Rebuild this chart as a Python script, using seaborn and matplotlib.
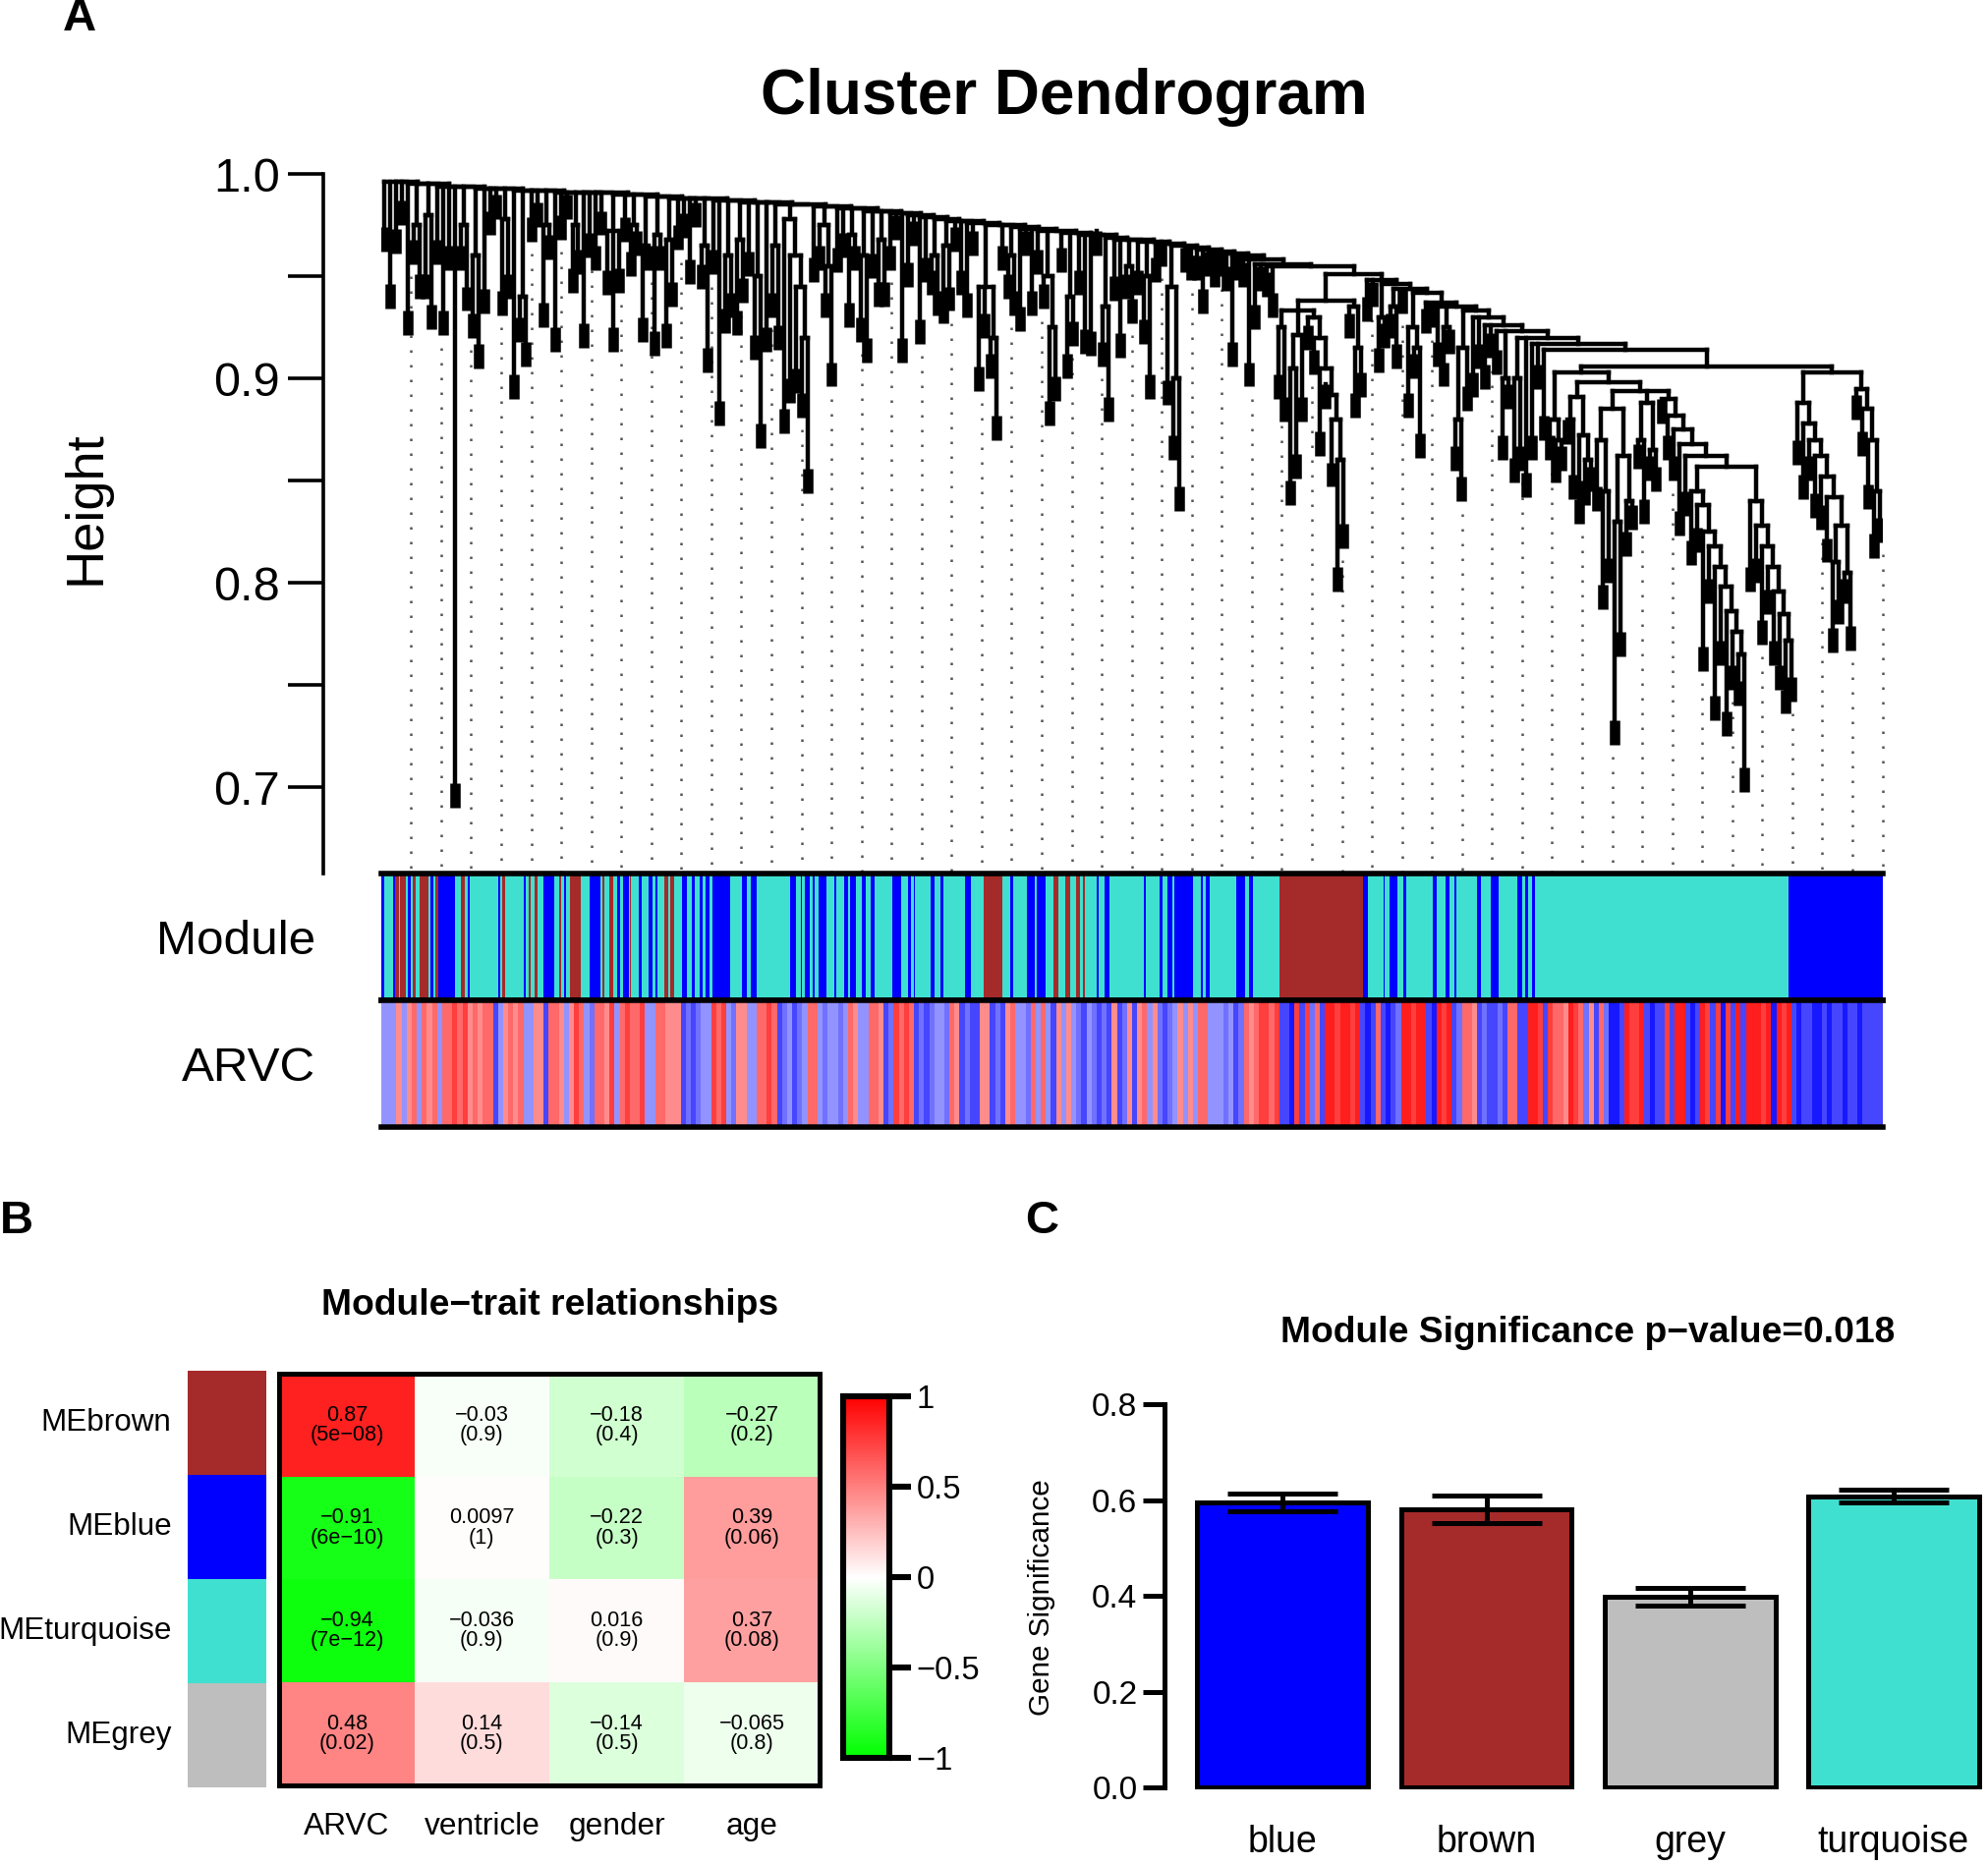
import numpy as np
import pandas as pd
import matplotlib
matplotlib.use("Agg")
import matplotlib.pyplot as plt
from matplotlib.collections import LineCollection
from matplotlib.colors import LinearSegmentedColormap, ListedColormap
import seaborn as sns

# ---------------- data ----------------
# Panel A: dendrogram, written as a chain of (merge height, [branches]) along the backbone.
# A branch is either the bottom height of a leaf group or a nested [merge height, child, child, ...]
chain_left = [
    (0.996, [0.962, 0.934]), (0.996, [0.961, 0.975]), (0.995, [0.921]),
    (0.995, [[0.975, 0.956, 0.939]]), (0.995, [[0.980, 0.939, 0.924]]),
    (0.994, [0.956, 0.921]), (0.994, [0.953, 0.690]), (0.994, [[0.975, 0.953, 0.933]]),
    (0.993, [[0.960, 0.920, 0.905]]), (0.993, [0.932]), (0.993, [0.970, 0.978]),
    (0.993, [[0.978, 0.931, 0.939]]), (0.992, [0.890]), (0.992, [[0.940, 0.918, 0.906]]),
    (0.992, [0.967, 0.974]), (0.992, [[0.975, 0.925, 0.958]]), (0.991, [0.913]),
    (0.991, [0.968, 0.978]), (0.991, [[0.975, 0.942, 0.951]]), (0.991, [0.915, 0.959]),
    (0.991, [0.953, 0.970]), (0.990, [[0.972, 0.941, 0.913, 0.942]]),
    (0.990, [0.967, [0.975, 0.950, 0.960]]), (0.989, [[0.965, 0.918, 0.953]]),
    (0.989, [[0.970, 0.911, 0.953]]), (0.988, [[0.968, 0.915, 0.935]]),
    (0.988, [0.963, 0.969]), (0.988, [0.946, 0.974, [0.965, 0.944, 0.903]]),
    (0.987, [0.951, 0.877]), (0.987, [[0.960, 0.922, 0.930]]),
    (0.986, [[0.968, 0.921, 0.937], 0.950]), (0.986, [[0.950, 0.909, 0.866]]),
    (0.986, [0.913]), (0.985, [[0.965, 0.930, 0.914]]),
    (0.985, [[0.978, 0.873, [0.960, 0.888, [0.945, 0.893, [0.920, 0.881, 0.844]]]]]),
    (0.984, [0.947]), (0.984, [[0.975, 0.953, [0.955, 0.930, 0.896]]]),
    (0.983, [0.952, 0.959]), (0.983, [[0.970, 0.925, 0.953]]),
    (0.982, [[0.960, 0.918, 0.908], 0.949]), (0.982, [[0.968, 0.935, 0.935]]),
    (0.981, [0.953, 0.968]), (0.981, [0.908]), (0.980, [0.945, 0.965]),
    (0.979, [0.917, 0.947]), (0.978, [[0.960, 0.941, 0.931]]),
    (0.977, [[0.965, 0.927, 0.933], 0.962]), (0.977, [0.941]), (0.976, [0.930, 0.960]),
    (0.975, [[0.945, 0.894, 0.920, [0.920, 0.900, 0.870]]]), (0.975, [0.953]),
    (0.974, [[0.960, 0.939, 0.931]]), (0.973, [0.923, 0.960, 0.931]),
    (0.972, [0.951, [0.950, 0.934, [0.925, 0.877, 0.889]]]),
    (0.971, [0.952, [0.940, 0.900, 0.916]]), (0.970, [0.941, 0.912]),
    (0.970, [0.911, 0.960]), (0.969, [[0.935, 0.906, 0.879]]), (0.968, [0.938, 0.910]),
    (0.968, [[0.955, 0.939, 0.927]]), (0.967, [0.941, [0.950, 0.917, 0.890]]),
    (0.966, [0.947, 0.955]), (0.965, [[0.945, 0.887, [0.900, 0.860, 0.835]]]),
    (0.964, [0.952, 0.948]), (0.963, [0.948, 0.932]), (0.962, [0.950, 0.945]),
    (0.961, [0.950, 0.943]), (0.960, [0.906, 0.948]), (0.958, [0.945, 0.896]),
    (0.956, [0.924, 0.943]), (0.955, [0.940, 0.930]),
]
brown_tree = [0.938,
              [0.933,
               [0.925, 0.890, 0.879],
               [0.921, [0.905, 0.838, 0.851], 0.879],
               [0.930, 0.914, [0.920, 0.902, [0.905, 0.862, [0.892, 0.885,
                                                            [0.880, 0.847, [0.860, 0.796, 0.817]]]]]]],
              [0.935, 0.920, [0.915, 0.881, 0.891]]]
chain_mid = [
    (0.948, [0.928, 0.935]), (0.946, [[0.930, 0.903, 0.915]]),
    (0.944, [[0.935, 0.920, 0.905], 0.932]), (0.942, [[0.925, 0.881, [0.915, 0.900, 0.861]]]),
    (0.937, [0.922, 0.925]), (0.935, [0.906, [0.925, 0.896, 0.912]]),
    (0.933, [[0.915, [0.880, 0.855, 0.840], 0.884]]), (0.930, [0.891, 0.905]),
    (0.926, [0.895, 0.910]), (0.923, [0.902, [0.900, 0.860, 0.885]]),
    (0.920, [[0.900, 0.849, 0.855], 0.842]), (0.917, [0.860, 0.895]),
]
turq_tree = [0.903,
             [0.880, 0.860, [0.870, 0.849, 0.855]],
             [0.898,
              [0.891, [0.880, 0.868, 0.841], [0.872, 0.829, [0.860, 0.838, 0.845]]],
              [0.894,
               [0.885, [0.870, 0.835, [0.845, 0.787, 0.800]],
                [0.862, [0.830, 0.721, 0.764], [0.840, 0.813, 0.826]]],
               [0.888, [0.870, 0.856, 0.829], [0.865, 0.850, 0.845]],
               [0.890, 0.878,
                [0.882, 0.860,
                 [0.875, 0.850,
                  [0.868, 0.823,
                   [0.862, 0.833,
                    [0.857,
                     [0.845, 0.809, [0.838, 0.815, [0.825, 0.757, [0.818, 0.790, [0.808, 0.733,
                      [0.798, 0.760, [0.786, 0.725, [0.776, 0.748, [0.765, 0.740, 0.698]]]]]]]]],
                     [0.840, 0.796, [0.828, 0.800, [0.818, 0.770, [0.808, 0.785, [0.796, 0.760,
                      [0.785, 0.748, [0.772, 0.736, 0.742]]]]]]]]]]]]]]]]
blue_tree = [0.903,
             [0.888, 0.858, [0.878, 0.841, [0.870, 0.850, [0.862, 0.832, [0.852, 0.826,
              [0.842, 0.810, [0.828, [0.810, 0.766, 0.780], [0.805, 0.790, 0.767]]]]]]]],
             [0.895, 0.880, [0.885, 0.862, [0.870, 0.836, [0.845, 0.812, 0.820]]]]]
right_merge = [0.914, 0.870, [0.906, turq_tree, blue_tree]]

# module colour of each gene (gene index ranges on a turquoise background)
blue_ranges = [(0, 2), (9, 11), (21, 23), (39, 41), (45, 58), (68, 70), (92, 94), (112, 114),
               (128, 136), (144, 146), (164, 173), (186, 188), (191, 195), (203, 205), (211, 214),
               (216, 218), (237, 241), (245, 247), (251, 253), (256, 259), (261, 275), (284, 288),
               (291, 296), (322, 327), (331, 332), (334, 338), (340, 342), (345, 351), (357, 359),
               (365, 368), (370, 374), (379, 382), (386, 389), (403, 410), (415, 418), (420, 421),
               (433, 436), (441, 443), (460, 465), (496, 498), (509, 515), (517, 524), (564, 566),
               (570, 574), (601, 603), (614, 616), (620, 624), (625, 640), (646, 648), (650, 653),
               (674, 681), (684, 687), (774, 778), (790, 791), (795, 801), (806, 808), (829, 832),
               (839, 842), (846, 848), (864, 867), (875, 881), (896, 900), (902, 904), (907, 910),
               (1110, 1184)]
brown_ranges = [(11, 14), (15, 19), (25, 27), (30, 37), (43, 45), (63, 66), (95, 98), (116, 118),
                (121, 123), (140, 142), (149, 157), (174, 176), (180, 183), (196, 197), (223, 226),
                (228, 231), (475, 490), (530, 534), (539, 543), (548, 551), (553, 555), (708, 774)]

# ARVC gene significance, one character per 4 genes
arvc_levels = {'1': -0.9, '2': -0.72, '3': -0.55, '4': -0.42,
               '6': 0.45, '7': 0.58, '8': 0.75, '9': 0.88}
arvc_left = ("444646747674778786767724676744662776468743776847877844776662323448784366447787"
             "2342347743443476447762387872323443762322662326744374742646432432326236 2")
arvc_right = ("6746323464647744434237678878221828372998998921272123998992198923776232232772299"
              "8287769873627311298892122829921298281829299989198921221121221221 2222")

# Panel B: module-trait relationships
me_names = ["MEbrown", "MEblue", "MEturquoise", "MEgrey"]
me_colors = ["#A52A2A", "#0000FF", "#40E0D0", "#BEBEBE"]
traits = ["ARVC", "ventricle", "gender", "age"]
cor_vals = [[0.87, -0.03, -0.18, -0.27],
            [-0.91, 0.0097, -0.22, 0.39],
            [-0.94, -0.036, 0.016, 0.37],
            [0.48, 0.14, -0.14, -0.065]]
p_vals = [["5e-08", "0.9", "0.4", "0.2"],
          ["6e-10", "1", "0.3", "0.06"],
          ["7e-12", "0.9", "0.9", "0.08"],
          ["0.02", "0.5", "0.5", "0.8"]]

# Panel C: gene significance per module
gs_modules = ["blue", "brown", "grey", "turquoise"]
gs_colors = ["#0000FF", "#A52A2A", "#BEBEBE", "#40E0D0"]
gs_mean = [0.595, 0.581, 0.398, 0.608]
gs_err = [0.018, 0.029, 0.018, 0.013]

# ---------------- style ----------------
sns.set_style("white")
plt.rcParams['font.family'] = ['Liberation Sans', 'DejaVu Sans']
plt.rcParams.update({'axes.edgecolor': 'black', 'text.color': 'black', 'axes.labelcolor': 'black',
                     'xtick.color': 'black', 'ytick.color': 'black'})
MINUS = '\u2212'
HANG = 0.012

fig = plt.figure(figsize=(10.12, 9.49), dpi=200)

# ---------------- panel A ----------------
arvc_str = (arvc_left + arvc_right).replace(" ", "")
n_genes = 4 * len(arvc_str)

tree = right_merge
for attach, branches in reversed(chain_left + [(0.951, [brown_tree])] + chain_mid):
    tree = [attach, *branches, tree]


def count_tips(node):
    if isinstance(node, (int, float)):
        return 1
    return sum(count_tips(c) for c in node[1:])


def walk(node, pos, step, segs, tips):
    if isinstance(node, (int, float)):
        x = (pos[0] + 0.5) * step
        pos[0] += 1
        tips.append((x, node))
        return x, node + HANG
    h = node[0]
    xs = []
    for child in node[1:]:
        cx, top = walk(child, pos, step, segs, tips)
        segs.append([(cx, h), (cx, top)])
        xs.append(cx)
    segs.append([(xs[0], h), (xs[-1], h)])
    return (xs[0] + xs[-1]) / 2, h


n_tips = count_tips(tree)
segs, tips = [], []
walk(tree, [0], n_genes / n_tips, segs, tips)
tip_segs = [[(x, b), (x, b + HANG)] for x, b in tips]

y_low = 0.658
ax_d = fig.add_axes([0.1916, 0.5317, 0.7548, 0.3805])
tip_x = np.array([t[0] for t in tips])
tip_b = np.array([t[1] for t in tips])
for k in range(1, 51):
    gx = k * n_genes / 50
    j = np.argmin(np.abs(tip_x - gx))
    ax_d.plot([gx, gx], [tip_b[j] - 0.006, y_low], color='#555555', lw=0.9,
              ls=(0, (1, 5)), clip_on=False, zorder=1)
ax_d.add_collection(LineCollection(segs, colors='black', linewidths=1.6,
                                   capstyle='projecting', zorder=2))
ax_d.add_collection(LineCollection(tip_segs, colors='black', linewidths=3.8,
                                   capstyle='butt', zorder=3))
ax_d.set_xlim(0, n_genes)
ax_d.set_ylim(y_low, 1.005)
for s in ['top', 'right', 'bottom']:
    ax_d.spines[s].set_visible(False)
ax_d.spines['left'].set_bounds(y_low, 1.0)
ax_d.spines['left'].set_position(('outward', 21))
ax_d.spines['left'].set_linewidth(1.3)
ax_d.set_xticks([])
ax_d.set_yticks([0.7, 0.8, 0.9, 1.0])
ax_d.set_yticklabels(["0.7", "0.8", "0.9", "1.0"])
ax_d.set_yticks([0.75, 0.85, 0.95], minor=True)
ax_d.tick_params(axis='y', which='both', left=True, length=13, width=1.3, labelsize=17.5, pad=3)
fig.text(0.0434, 0.7277, "Height", rotation=90, fontsize=19.6, ha='center', va='center')
fig.text(0.535, 0.9476, "Cluster Dendrogram", fontsize=23, fontweight='bold', ha='center', va='center')

codes = np.zeros(n_genes, dtype=int)
for a, b in blue_ranges:
    codes[a:b] = 1
for a, b in brown_ranges:
    codes[a:b] = 2
arvc_vals = np.repeat([arvc_levels[c] for c in arvc_str], 4)
bwr = LinearSegmentedColormap.from_list("bwr_r", ["#0000FF", "#FFFFFF", "#FF0000"])

ax_m = fig.add_axes([0.1916, 0.4636, 0.7548, 0.0681])
ax_m.imshow(codes[None, :], aspect='auto', interpolation='nearest', vmin=0, vmax=2,
            cmap=ListedColormap(["#40E0D0", "#0000FF", "#A52A2A"]), extent=(0, n_genes, 0, 1))
ax_a = fig.add_axes([0.1916, 0.3955, 0.7548, 0.0681])
ax_a.imshow(arvc_vals[None, :], aspect='auto', interpolation='nearest', vmin=-1, vmax=1,
            cmap=bwr, extent=(0, n_genes, 0, 1))
for ax, lab in [(ax_m, "Module"), (ax_a, "ARVC")]:
    ax.set_xticks([])
    ax.set_yticks([0.5])
    ax.set_yticklabels([lab])
    ax.tick_params(axis='y', length=0, pad=24, labelsize=17.8)
    for s in ['left', 'right']:
        ax.spines[s].set_visible(False)
    for s in ['top', 'bottom']:
        ax.spines[s].set_linewidth(2.0)

# ---------------- panel B ----------------
gwr = LinearSegmentedColormap.from_list("gwr", ["#00FF00", "#FFFFFF", "#FF0000"])
cor_df = pd.DataFrame(cor_vals, index=me_names, columns=traits)
annot = np.array([[f"{str(r).replace('-', MINUS)}\n({p.replace('-', MINUS)})"
                   for r, p in zip(rr, pp)] for rr, pp in zip(cor_vals, p_vals)])

ax_side = fig.add_axes([0.0945, 0.0415, 0.0396, 0.2233])
sns.heatmap(np.arange(4).reshape(4, 1), cmap=ListedColormap(me_colors), cbar=False,
            ax=ax_side, xticklabels=False, yticklabels=me_names)
ax_side.tick_params(axis='y', length=0, pad=6, labelsize=11.3, rotation=0)

ax_hm = fig.add_axes([0.1405, 0.0429, 0.2714, 0.2205])
cax = fig.add_axes([0.424, 0.0572, 0.023, 0.194])
sns.heatmap(cor_df, annot=annot, fmt='', cmap=gwr, vmin=-1, vmax=1, ax=ax_hm, cbar_ax=cax,
            yticklabels=False, annot_kws={'fontsize': 7.8, 'color': 'black', 'linespacing': 0.95})
for s in ax_hm.spines.values():
    s.set_visible(True)
    s.set_linewidth(1.8)
ax_hm.tick_params(axis='x', length=0, pad=10, labelsize=11.4, rotation=0)
cbar = ax_hm.collections[0].colorbar
cbar.set_ticks([-1, -0.5, 0, 0.5, 1])
cbar.set_ticklabels([MINUS + "1", MINUS + "0.5", "0", "0.5", "1"])
cbar.outline.set_linewidth(2.2)
cax.tick_params(right=True, length=8, width=2.2, labelsize=11.8, pad=2)
fig.text(0.2765, 0.3002, "Module" + MINUS + "trait relationships", fontsize=13.4,
         fontweight='bold', ha='center', va='center')

# ---------------- panel C ----------------
ax_bar = fig.add_axes([0.5856, 0.0408, 0.4124, 0.2076])
sns.barplot(x=gs_modules, y=gs_mean, hue=gs_modules, palette=gs_colors, legend=False,
            saturation=1, width=0.84, edgecolor='black', linewidth=1.8, errorbar=None, ax=ax_bar)
ax_bar.errorbar(np.arange(4), gs_mean, yerr=gs_err, fmt='none', ecolor='black',
                elinewidth=1.8, capsize=20, capthick=1.8)
ax_bar.set_xlim(-0.58, 3.45)
ax_bar.set_ylim(-0.003, 0.805)
for s in ['top', 'right', 'bottom']:
    ax_bar.spines[s].set_visible(False)
ax_bar.spines['left'].set_bounds(0, 0.8)
ax_bar.spines['left'].set_linewidth(1.8)
ax_bar.set_yticks([0, 0.2, 0.4, 0.6, 0.8])
ax_bar.set_yticklabels(["0.0", "0.2", "0.4", "0.6", "0.8"])
ax_bar.tick_params(axis='y', left=True, length=8, width=1.8, labelsize=12, pad=2)
ax_bar.tick_params(axis='x', length=0, pad=13, labelsize=13.5)
fig.text(0.5236, 0.1436, "Gene Significance", rotation=90, fontsize=10.7, ha='center', va='center')
fig.text(0.798, 0.2852, "Module Significance p" + MINUS + "value=0.018", fontsize=13.4,
         fontweight='bold', ha='center', va='center')

# panel letters
fig.text(0.0402, 0.9898, "A", fontsize=17, fontweight='bold', ha='center', va='center')
fig.text(0.0083, 0.3451, "B", fontsize=17, fontweight='bold', ha='center', va='center')
fig.text(0.5236, 0.3451, "C", fontsize=17, fontweight='bold', ha='center', va='center')

fig.savefig("out.png", dpi=200)
